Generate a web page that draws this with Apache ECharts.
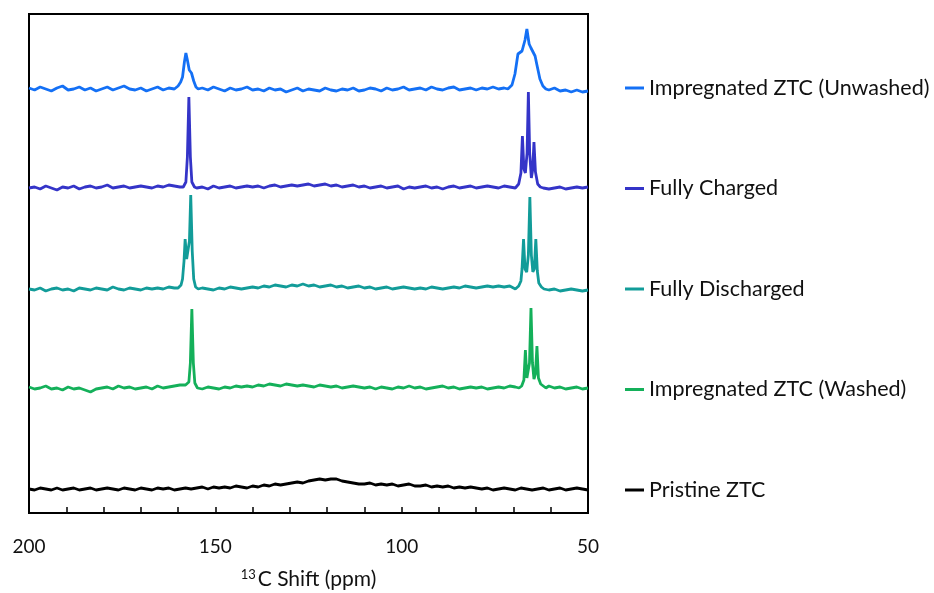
<!DOCTYPE html>
<html>
<head>
<meta charset="utf-8">
<script src="https://cdn.jsdelivr.net/npm/echarts@6/dist/echarts.min.js"></script>
<style>
  html, body { margin: 0; padding: 0; background: #fff; }
  #nmr_show { width: 934px; height: 593px; }
</style>
</head>
<body>
<div id="nmr_show"></div>
<script>
// sample positions (ppm), 1.5 ppm apart, 200 -> 50
var ppmGrid = [];
for (var i = 0; i <= 100; i++) { ppmGrid.push(200 - 1.5 * i); }

var seriesNames = ['Impregnated ZTC (Unwashed)', 'Fully Charged', 'Fully Discharged', 'Impregnated ZTC (Washed)', 'Pristine ZTC'];
var xLabelStep = 50;

// baseline wiggle (one value per ppmGrid point)
var unwashedBase = [
    1, -1, 2, 0, -2, 1, 3, -1, 0, 2,
    -1, 1, -2, 0, 2, -1, 1, 3, 0, -1,
    1, -2, 0, 2, -1, 1, 0, 1, 0, 0,
    0, 1, -1, 2, 0, -2, 1, -1, 0, 2,
    -1, 0, -2, 1, -1, 0, -3, -1, 1, -2,
    0, -1, -2, 1, -1, -2, 0, -1, 1, -2,
    -1, 1, 0, -2, 1, -1, 0, 2, -1, 0,
    1, -1, 2, 0, -1, 1, 2, -1, 0, 1,
    -1, 1, 0, 2, 0, 1, 0, 0, 0, 0,
    0, 0, 0, -1, 1, -2, -1, -3, -1, -3,
    -2
];
var chargedBase = [
    -1, 0, -2, 1, -1, -3, 0, -1, 1, -2,
    0, 1, -1, 0, 2, -1, 0, 1, -1, 0,
    1, 0, -1, 1, 0, 2, 1, 0, 0, 0,
    -1, 0, -2, 1, -1, 0, 1, -1, 0, 1,
    0, 1, -1, 1, 2, 0, 1, 2, 1, 2,
    3, 1, 2, 3, 1, 2, 0, 1, 2, 0,
    1, -1, 0, 1, -1, 0, 1, -2, 0, -1,
    0, 1, -1, 0, -2, 0, 1, -1, 0, 1,
    -1, 0, 1, 0, -1, 1, 0, -1, 0, 0,
    0, 0, -1, -2, -1, 0, -2, -1, 0, -1,
    0
];
var dischargedBase = [
    0, -1, 1, -2, 0, 1, -1, 0, -2, 1,
    0, -1, 1, 0, -1, 2, 0, -1, 1, 0,
    -1, 1, 0, 1, 0, 2, 1, 1, 0, 0,
    0, 1, 0, -1, 1, 0, 2, 1, 0, 1,
    2, 1, 3, 2, 4, 3, 2, 4, 3, 5,
    3, 4, 2, 3, 4, 2, 3, 1, 2, 3,
    1, 2, 0, 1, 2, 0, 1, 2, 1, 0,
    1, 0, 2, 1, 0, 1, 2, 1, 3, 2,
    1, 2, 3, 2, 3, 2, 3, 0, 0, 0,
    0, 0, 1, -1, 0, -2, -1, 0, -1, -2,
    -1
];
var washedBase = [
    1, -1, 0, 2, -1, 0, -2, 1, -1, 0,
    -2, -4, -1, 0, 1, -1, 2, 0, 1, -1,
    0, 1, -1, 2, 0, 1, 2, 3, 3, 3,
    0, -1, 1, 0, -1, 1, 0, 2, 1, 2,
    1, 3, 2, 4, 3, 2, 4, 3, 2, 3,
    2, 1, 3, 2, 1, 2, 0, 1, 2, 1,
    0, 1, -1, 1, 0, -1, 1, 0, 2, 0,
    1, -1, 0, 1, 2, 0, 1, -1, 0, 1,
    0, 1, -1, 0, 1, 0, 2, 1, 0, 0,
    0, 0, 0, 2, 0, 1, -1, 0, 1, -1,
    0
];
var pristineBase = [
    0, -1, 1, 0, -1, 1, -1, 0, 1, -1,
    0, 1, -1, 0, 1, 0, -1, 1, 0, -1,
    1, 0, -1, 1, 0, 1, -1, 0, 1, 0,
    1, 2, 0, 2, 1, 2, 1, 3, 2, 1,
    3, 2, 4, 3, 5, 4, 5, 6, 7, 6,
    8, 9, 10, 9, 10, 10, 8, 7, 6, 5,
    5, 6, 4, 5, 4, 5, 3, 4, 5, 3,
    3, 4, 2, 3, 2, 3, 1, 2, 1, 2,
    1, 0, 1, -1, 0, 1, 0, -1, 1, 0,
    -1, 0, 1, -1, 0, 1, -1, 0, 1, 0,
    -1
];

// peaks: [ppm, height above baseline], high ppm first
var unwashedPeakA = [[161, 0], [160, 3], [159.3, 7], [158.8, 12], [158.3, 27], [157.9, 36], [157.5, 29], [157, 19], [156.4, 16], [155.8, 8], [155.2, 2], [154.6, 0]];
var unwashedPeakB = [[71.5, 0], [70.4, 4], [69.6, 15], [68.8, 35], [67.7, 38], [66.9, 49], [66.4, 60], [65.8, 45], [65.3, 41], [64.8, 42], [64.2, 33], [63.7, 24], [62.9, 10], [62.1, 3], [61.3, 0]];
var chargedPeakA = [[158.6, 0], [157.9, 5], [157.5, 30], [157.1, 90], [156.7, 30], [156.3, 5], [155.6, 0]];
var chargedPeakB = [[69.4, 0], [68.6, 3], [68, 14], [67.6, 51], [67.2, 18], [66.8, 14], [66.35, 34], [66, 95], [65.65, 34], [65.2, 9], [64.85, 17], [64.5, 45], [64.1, 15], [63.5, 3], [62.8, 0]];
var dischargedPeakA = [[160, 1], [159.2, 4], [158.8, 10], [158.4, 28], [158.1, 50], [157.7, 30], [157.3, 28], [156.95, 48], [156.6, 94], [156.2, 38], [155.8, 10], [155.3, 2], [154.6, 0]];
var dischargedPeakB = [[69.2, 2], [68.6, 3], [68, 8], [67.7, 20], [67.3, 50], [66.9, 20], [66.45, 17], [66, 34], [65.6, 92], [65.2, 34], [64.8, 17], [64.4, 20], [64, 50], [63.6, 18], [63.2, 6], [62.5, 2], [61.8, 0]];
var washedPeakA = [[157.8, 3], [157.1, 6], [156.7, 25], [156.3, 79], [155.9, 25], [155.5, 5], [154.8, 0]];
var washedPeakB = [[68.5, 0], [67.8, 2], [67.2, 8], [66.8, 38], [66.4, 10], [66.05, 9], [65.7, 25], [65.3, 80], [64.9, 25], [64.5, 9], [64.1, 14], [63.7, 42], [63.3, 10], [62.7, 4], [62, 2], [61.3, 0]];

// vertical stacking offsets
var offsets = [424, 326, 224, 125, 24];
var colors = ['#1470F5', '#3434C8', '#129C99', '#14B05A', '#000000'];

function buildLine(base, peakLists, offset) {
    var pts = [];
    for (var i = 0; i < ppmGrid.length; i++) {
        var x = ppmGrid[i];
        var inPeak = peakLists.some(function (pk) {
            return x <= pk[0][0] && x >= pk[pk.length - 1][0];
        });
        if (!inPeak) pts.push([x, offset + base[i]]);
    }
    peakLists.forEach(function (pk) {
        pk.forEach(function (p) { pts.push([p[0], offset + p[1]]); });
    });
    pts.sort(function (a, b) { return b[0] - a[0]; });
    return pts;
}

var lines = [
    buildLine(unwashedBase, [unwashedPeakA, unwashedPeakB], offsets[0]),
    buildLine(chargedBase, [chargedPeakA, chargedPeakB], offsets[1]),
    buildLine(dischargedBase, [dischargedPeakA, dischargedPeakB], offsets[2]),
    buildLine(washedBase, [washedPeakA, washedPeakB], offsets[3]),
    buildLine(pristineBase, [], offsets[4])
];

var font = 'Lato, "Liberation Sans", sans-serif';
var chart = echarts.init(document.getElementById('nmr_show'));
var option = {
    animation: false,
    color: colors,
    grid: {
        show: true,
        left: 29, right: 346, top: 14, bottom: 80,
        outerBoundsMode: 'none',
        borderColor: '#000', borderWidth: 2,
        backgroundColor: 'transparent'
    },
    legend: {
        orient: 'vertical',
        left: 620,
        top: 72,
        itemWidth: 19,
        itemHeight: 3,
        itemGap: 78.5,
        icon: 'rect',
        data: seriesNames,
        textStyle: { fontFamily: font, fontSize: 21.5, color: '#111', lineHeight: 20.25 }
    },
    xAxis: {
        type: 'value',
        inverse: true,
        min: 50, max: 200, interval: 10,
        name: '{sup|13}C Shift (ppm)',
        nameLocation: 'middle',
        nameGap: 55,
        nameTextStyle: {
            fontFamily: font, fontSize: 21, color: '#111',
            rich: { sup: { fontFamily: font, fontSize: 13, verticalAlign: 'top', padding: [0, 2, 9, 0], color: '#111' } }
        },
        axisLine: { show: true, onZero: false, lineStyle: { color: '#000', width: 2 } },
        axisTick: { show: true, inside: true, length: 6, lineStyle: { color: '#000', width: 1.5 } },
        axisLabel: {
            margin: 24, fontFamily: font, fontSize: 19, color: '#111',
            formatter: function (v) { return v % xLabelStep === 0 ? String(v) : ''; }
        },
        splitLine: { show: false }
    },
    yAxis: {
        type: 'value', min: 0, max: 499, show: false
    },
    series: seriesNames.map(function (name, k) {
        return {
            name: name,
            type: 'line',
            showSymbol: false,
            smooth: false,
            lineStyle: { width: 2.8, color: colors[k] },
            itemStyle: { color: colors[k] },
            data: lines[k]
        };
    })
};
chart.setOption(option);
</script>
</body>
</html>
